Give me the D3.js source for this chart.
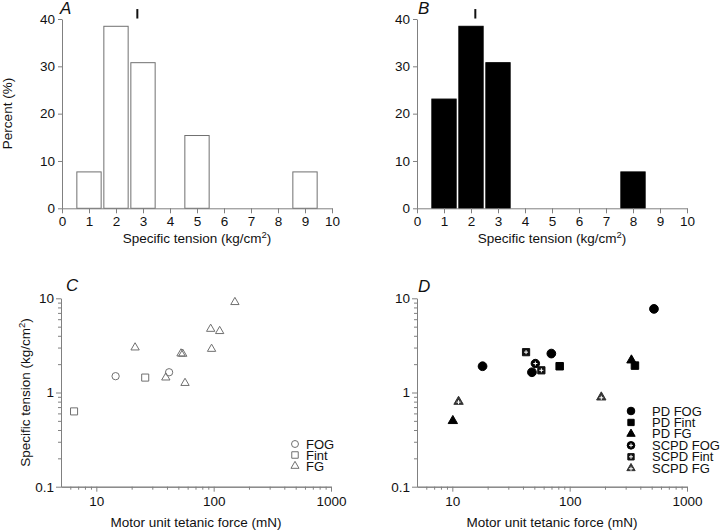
<!DOCTYPE html>
<html><head><meta charset="utf-8">
<script src="https://cdn.jsdelivr.net/npm/d3@7"></script>
<style>
body{margin:0;background:#fff;}
text{font-family:Arial,"Liberation Sans",sans-serif;}
</style></head>
<body>
<svg id="c" width="720" height="531"></svg>
<script>
// ---- Data ----
const histA_bins = [1, 2, 3, 5, 9];
const histA_pct  = [7.69, 38.46, 30.77, 15.38, 7.69];
const histA_mean = 2.79;
const histB_bins = [1, 2, 3, 8];
const histB_pct  = [23.08, 38.46, 30.77, 7.69];
const histB_mean = 2.16;
const histTicksX = [0,1,2,3,4,5,6,7,8,9,10];
const histTicksY = [0,10,20,30,40];

const C_fog_force  = [14.6, 41.7];
const C_fog_st     = [1.49, 1.64];
const C_fint_force = [6.46, 26.1];
const C_fint_st    = [0.63, 1.44];
const C_fg_force   = [21.4, 39.1, 52.7, 54.5, 57, 94.3, 112.5, 96, 151.7];
const C_fg_st      = [3.0, 1.44, 2.59, 2.57, 1.26, 4.73, 4.48, 2.9, 9.1];

const D_pdfog_force  = [18.1, 47.7, 69.8, 523];
const D_pdfog_st     = [1.9, 1.64, 2.59, 7.72];
const D_pdfint_force = [82.2, 360];
const D_pdfint_st    = [1.9, 1.93];
const D_pdfg_force   = [10.1, 336];
const D_pdfg_st      = [0.50, 2.2];
const D_scfog_force  = [51];
const D_scfog_st     = [2.03];
const D_scfint_force = [42.5, 57.4];
const D_scfint_st    = [2.68, 1.72];
const D_scfg_force   = [11.3, 186];
const D_scfg_st      = [0.80, 0.89];

const logTicksX = [10, 100, 1000];
const logTicksY = [0.1, 1, 10];
const legendC = ["FOG", "Fint", "FG"];
const legendD = ["PD FOG", "PD Fint", "PD FG", "SCPD FOG", "SCPD Fint", "SCPD FG"];

// ---- Drawing ----
const svg = d3.select("#c");
const AX = "#808080", MK = "#707070";
const TICKFS = "13.5px", TITLEFS = "13.5px";

function styleAxis(g){
  g.select(".domain").attr("stroke", AX);
  g.selectAll(".tick line").attr("stroke", AX);
  g.selectAll(".tick text").attr("fill", "#111").style("font-size", TICKFS);
}
function panelLetter(x, y, t){
  svg.append("text").attr("x", x).attr("y", y).text(t)
    .style("font-size", "17px").style("font-style", "italic").attr("fill", "#111");
}
function kgTitle(sel){
  sel.append("tspan").text("Specific tension (kg/cm");
  sel.append("tspan").text("2").attr("dy", -5).style("font-size", "9.5px");
  sel.append("tspan").text(")").attr("dy", 5);
}

function histogram(x0, bins, pct, mean, fill){
  const x = d3.scaleLinear().domain([0, 10]).range([x0, x0 + 270]);
  const y = d3.scaleLinear().domain([0, 40]).range([208.3, 19]);
  svg.append("g").selectAll("rect").data(bins).join("rect")
    .attr("x", (d) => x(d - 0.45)).attr("width", x(0.9) - x(0))
    .attr("y", (d, i) => y(pct[i])).attr("height", (d, i) => y(0) - y(pct[i]))
    .attr("fill", fill).attr("stroke", fill === "#fff" ? MK : "#000").attr("stroke-width", 1);
  svg.append("line").attr("x1", x(mean)).attr("x2", x(mean))
    .attr("y1", y(40.1)).attr("y2", y(42.1)).attr("stroke", "#111").attr("stroke-width", 2);
  const gx = svg.append("g").attr("transform", `translate(0,${y(0)})`)
    .call(d3.axisBottom(x).tickValues(histTicksX).tickSize(5).tickSizeOuter(0).tickPadding(3));
  styleAxis(gx);
  const gy = svg.append("g").attr("transform", `translate(${x0},0)`)
    .call(d3.axisLeft(y).tickValues(histTicksY).tickSize(4).tickSizeOuter(0).tickPadding(3));
  styleAxis(gy);
  const t = svg.append("text").attr("x", x0 + 135).attr("y", 243).attr("text-anchor", "middle")
    .style("font-size", TITLEFS).attr("fill", "#111");
  kgTitle(t);
}

histogram(62, histA_bins, histA_pct, histA_mean, "#fff");
histogram(417, histB_bins, histB_pct, histB_mean, "#000");
panelLetter(60, 14, "A");
panelLetter(418, 14, "B");
svg.append("text").attr("transform", "translate(12,113.5) rotate(-90)").attr("text-anchor", "middle")
  .style("font-size", TITLEFS).attr("fill", "#111").text("Percent (%)");

// ---- Log scatter panels ----
const minorX = [6,7,8,9,20,30,40,50,60,70,80,90,200,300,400,500,600,700,800,900];
const minorY = [0.2,0.3,0.4,0.5,0.6,0.7,0.8,0.9,2,3,4,5,6,7,8,9];
const fmtLog = (d) => d < 1 ? "0.1" : String(d);

function logPanel(x0){
  const x = d3.scaleLog().domain([5, 1000]).range([x0, x0 + 270]);
  const y = d3.scaleLog().domain([0.1, 10]).range([486.7, 298.3]);
  const gxm = svg.append("g").attr("transform", `translate(0,${y(0.1)})`)
    .call(d3.axisBottom(x).tickValues(minorX).tickSize(3).tickSizeOuter(0).tickFormat(""));
  styleAxis(gxm);
  const gx = svg.append("g").attr("transform", `translate(0,${y(0.1)})`)
    .call(d3.axisBottom(x).tickValues(logTicksX).tickSize(5).tickSizeOuter(0).tickPadding(5).tickFormat(fmtLog));
  styleAxis(gx);
  const gym = svg.append("g").attr("transform", `translate(${x0},0)`)
    .call(d3.axisLeft(y).tickValues(minorY).tickSize(3).tickSizeOuter(0).tickFormat(""));
  styleAxis(gym);
  const gy = svg.append("g").attr("transform", `translate(${x0},0)`)
    .call(d3.axisLeft(y).tickValues(logTicksY).tickSize(5).tickSizeOuter(0).tickPadding(2).tickFormat(fmtLog));
  styleAxis(gy);
  svg.append("text").attr("x", x0 + 135).attr("y", 527).attr("text-anchor", "middle")
    .style("font-size", TITLEFS).attr("fill", "#111").text("Motor unit tetanic force (mN)");
  return {x, y};
}

function sym(type, size){ return d3.symbol().type(type).size(size)(); }
function drawPts(sc, xs, ys, type, size, fill, stroke, plus){
  const g = svg.append("g");
  xs.forEach((v, i) => {
    const px = sc.x(v), py = sc.y(ys[i]);
    g.append("path").attr("d", sym(type, size)).attr("transform", `translate(${px},${py})`)
      .attr("fill", fill).attr("stroke", stroke).attr("stroke-width", 1);
    if (plus){
      const dy = type === d3.symbolTriangle ? 0.5 : 0;
      g.append("path").attr("d", `M${px-2},${py+dy}H${px+2}M${px},${py+dy-2}V${py+dy+2}`)
        .attr("stroke", "#fff").attr("stroke-width", 1);
    }
  });
}

// Panel C
const sc = logPanel(61);
drawPts(sc, C_fint_force, C_fint_st, d3.symbolSquare, 50, "none", MK, false);
drawPts(sc, C_fg_force, C_fg_st, d3.symbolTriangle, 30, "none", MK, false);
drawPts(sc, C_fog_force, C_fog_st, d3.symbolCircle, 42, "none", MK, false);
panelLetter(66, 291, "C");
{
  const t = svg.append("text").attr("transform", "translate(30,392.5) rotate(-90)").attr("text-anchor", "middle")
    .style("font-size", TITLEFS).attr("fill", "#111");
  kgTitle(t);
}
// Legend C
const legCTypes = [d3.symbolCircle, d3.symbolSquare, d3.symbolTriangle];
const legCSizes = [38, 42, 28];
legendC.forEach((lab, i) => {
  const yy = 444 + i * 11;
  svg.append("path").attr("d", sym(legCTypes[i], legCSizes[i])).attr("transform", `translate(295,${yy})`)
    .attr("fill", "none").attr("stroke", MK);
  svg.append("text").attr("x", 306).attr("y", yy + 4.5).text(lab)
    .style("font-size", "13px").attr("fill", "#111");
});

// Panel D
const sd = logPanel(417);
drawPts(sd, D_pdfog_force, D_pdfog_st, d3.symbolCircle, 60, "#000", "#000", false);
drawPts(sd, D_pdfint_force, D_pdfint_st, d3.symbolSquare, 56, "#000", "#000", false);
drawPts(sd, D_pdfg_force, D_pdfg_st, d3.symbolTriangle, 38, "#000", "#000", false);
drawPts(sd, D_scfog_force, D_scfog_st, d3.symbolCircle, 56, "#000", "#000", true);
drawPts(sd, D_scfint_force, D_scfint_st, d3.symbolSquare, 52, "#111", "#111", true);
drawPts(sd, D_scfg_force, D_scfg_st, d3.symbolTriangle, 38, "#333", "#333", true);
panelLetter(418, 292, "D");
const legDTypes = [d3.symbolCircle, d3.symbolSquare, d3.symbolTriangle, d3.symbolCircle, d3.symbolSquare, d3.symbolTriangle];
const legDFill = ["#000", "#000", "#000", "#000", "#111", "#333"];
legendD.forEach((lab, i) => {
  const yy = 411 + i * 11.45;
  const size = [46, 40, 30, 46, 40, 30][i];
  svg.append("path").attr("d", sym(legDTypes[i], size)).attr("transform", `translate(631,${yy})`)
    .attr("fill", legDFill[i]).attr("stroke", legDFill[i]);
  if (i >= 3){
    const dy = i === 5 ? 0.5 : 0;
    svg.append("path").attr("d", `M${629},${yy+dy}H${633}M${631},${yy+dy-2}V${yy+dy+2}`)
      .attr("stroke", "#fff").attr("stroke-width", 1);
  }
  svg.append("text").attr("x", 652).attr("y", yy + 4.5).text(lab)
    .style("font-size", "13px").attr("fill", "#111");
});
</script>
</body></html>
